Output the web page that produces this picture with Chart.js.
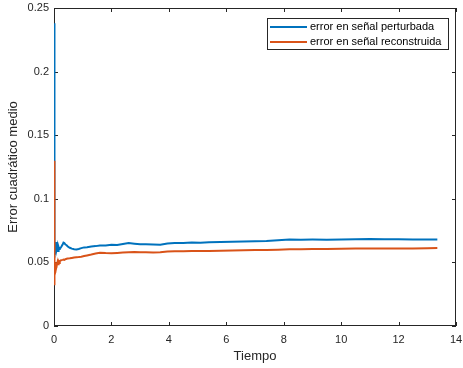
<!DOCTYPE html>
<html>
<head>
<meta charset="utf-8">
<script src="https://cdn.jsdelivr.net/npm/chart.js@4/dist/chart.umd.min.js"></script>
<style>
    html, body { margin: 0; padding: 0; background: #fff; }
    #wrap { width: 463px; height: 368px; }
</style>
</head>
<body>
<div id="wrap"><canvas id="mse-chart" width="463" height="368"></canvas></div>
<script>
// Time stamps shared by both error curves
const tiempo = [
    0, 0.004, 0.008, 0.012, 0.016, 0.02, 0.025, 0.03, 0.035, 0.04,
    0.05, 0.06, 0.07, 0.08, 0.09, 0.1, 0.12, 0.14, 0.16, 0.18,
    0.2, 0.23, 0.26, 0.3, 0.33, 0.36, 0.4, 0.44, 0.48, 0.55,
    0.62, 0.7, 0.78, 0.86, 0.95, 1.05, 1.15, 1.3, 1.45, 1.6,
    1.8, 2.0, 2.2, 2.4, 2.6, 2.8, 3.0, 3.2, 3.45, 3.7,
    3.95, 4.2, 4.5, 4.8, 5.1, 5.4, 5.8, 6.2, 6.6, 7.0,
    7.4, 7.8, 8.2, 8.6, 9.0, 9.5, 10.0, 10.5, 11.0, 11.5,
    12.0, 12.5, 13.0, 13.35
];

const errorPerturbada = [
    0.238, 0.19, 0.13, 0.078, 0.062, 0.057, 0.066, 0.058, 0.065, 0.056,
    0.064, 0.058, 0.066, 0.059, 0.064, 0.060, 0.063, 0.059, 0.062, 0.0605,
    0.061, 0.0615, 0.0625, 0.064, 0.0655, 0.0652, 0.064, 0.0635, 0.0625, 0.0615,
    0.0608, 0.0603, 0.0602, 0.0606, 0.0612, 0.0618, 0.062, 0.0625, 0.0628, 0.0632,
    0.0633, 0.0638, 0.0637, 0.0645, 0.0652, 0.0647, 0.0643, 0.0642, 0.064, 0.0638,
    0.0648, 0.0652, 0.0652, 0.0656, 0.0655, 0.0658, 0.066, 0.0663, 0.0665, 0.0667,
    0.0668, 0.0675, 0.068, 0.0679, 0.068, 0.0679, 0.0681, 0.0682, 0.0684, 0.0682,
    0.0682, 0.0681, 0.0681, 0.0681
];

const errorReconstruida = [
    0.13, 0.09, 0.05, 0.032, 0.046, 0.036, 0.048, 0.039, 0.05, 0.042,
    0.049, 0.043, 0.05, 0.046, 0.05, 0.047, 0.05, 0.0485, 0.0505, 0.0495,
    0.051, 0.0515, 0.0518, 0.052, 0.0522, 0.052, 0.0525, 0.0528, 0.053, 0.0532,
    0.0535, 0.0538, 0.054, 0.0542, 0.0545, 0.055, 0.0555, 0.0562, 0.057, 0.0575,
    0.0573, 0.0572, 0.0574, 0.0577, 0.0579, 0.0581, 0.058, 0.0579, 0.0578, 0.058,
    0.0585, 0.0587, 0.0587, 0.0589, 0.0589, 0.059, 0.0592, 0.0594, 0.0596, 0.0597,
    0.0598, 0.06, 0.0603, 0.0604, 0.0605, 0.0606, 0.0607, 0.0609, 0.061, 0.061,
    0.061, 0.061, 0.0612, 0.0613
];

const seriesLabels = ['error en señal perturbada', 'error en señal reconstruida'];
const xTicks = [0, 2, 4, 6, 8, 10, 12, 14];
const yTicks = [0, 0.05, 0.1, 0.15, 0.2, 0.25];
const yTickLabels = ['0', '0.05', '0.1', '0.15', '0.2', '0.25'];

const AXIS_COLOR = '#262626';
const FONT = '"Liberation Sans", Arial, sans-serif';

// MATLAB-style frame: box on, inward ticks on every side (under the data),
// legend box in the top right corner (over the data)
const matlabFrame = {
    id: 'matlabFrame',
    beforeDatasetsDraw(chart) {
        const { ctx, chartArea: a, scales } = chart;
        const len = 4;
        ctx.save();
        ctx.strokeStyle = AXIS_COLOR;
        ctx.lineWidth = 1;
        ctx.strokeRect(a.left + 0.5, a.top + 0.5, a.right - a.left - 1, a.bottom - a.top - 1);

        ctx.beginPath();
        xTicks.forEach(v => {
            const x = Math.round(scales.x.getPixelForValue(v)) + 0.5;
            ctx.moveTo(x, a.bottom); ctx.lineTo(x, a.bottom - len);
            ctx.moveTo(x, a.top); ctx.lineTo(x, a.top + len);
        });
        yTicks.forEach(v => {
            const y = Math.round(scales.y.getPixelForValue(v)) + 0.5;
            ctx.moveTo(a.left, y); ctx.lineTo(a.left + len, y);
            ctx.moveTo(a.right, y); ctx.lineTo(a.right - len, y);
        });
        ctx.stroke();
        ctx.restore();
    },
    afterDatasetsDraw(chart) {
        const { ctx, chartArea: a } = chart;
        const boxW = 181, boxH = 31;
        const bx = a.right - 8 - boxW, by = a.top + 10;
        ctx.save();
        ctx.fillStyle = '#fff';
        ctx.fillRect(bx, by, boxW, boxH);
        ctx.strokeStyle = AXIS_COLOR;
        ctx.lineWidth = 1;
        ctx.strokeRect(bx + 0.5, by + 0.5, boxW, boxH);
        ctx.font = '11px ' + FONT;
        ctx.textBaseline = 'middle';
        chart.data.datasets.forEach((ds, i) => {
            const y = by + 9 + i * 15;
            ctx.strokeStyle = ds.borderColor;
            ctx.lineWidth = 2;
            ctx.beginPath();
            ctx.moveTo(bx + 3, y); ctx.lineTo(bx + 40, y);
            ctx.stroke();
            ctx.fillStyle = '#000';
            ctx.fillText(ds.label, bx + 43, y);
        });
        ctx.restore();
    }
};

function buildPoints(values) {
    return tiempo.map((t, i) => ({ x: t, y: values[i] }));
}

new Chart(document.getElementById('mse-chart'), {
    type: 'line',
    data: {
        datasets: [{
            label: seriesLabels[0],
            data: buildPoints(errorPerturbada),
            borderColor: '#0072BD',
            borderWidth: 2,
            pointRadius: 0,
            tension: 0,
            order: 2
        }, {
            label: seriesLabels[1],
            data: buildPoints(errorReconstruida),
            borderColor: '#D95319',
            borderWidth: 2,
            pointRadius: 0,
            tension: 0,
            order: 1
        }]
    },
    options: {
        responsive: false,
        animation: false,
        layout: { padding: { top: 8, right: 7, left: 0, bottom: 0 } },
        plugins: { legend: { display: false }, tooltip: { enabled: false } },
        scales: {
            x: {
                type: 'linear',
                min: 0, max: 14,
                afterBuildTicks: s => { s.ticks = xTicks.map(v => ({ value: v })); },
                afterFit: s => { s.height = 42; s.paddingLeft = 0; s.paddingRight = 0; },
                grid: { display: false, drawTicks: false },
                border: { display: false },
                ticks: { color: AXIS_COLOR, font: { family: FONT, size: 11 }, padding: 7, maxRotation: 0 },
                title: { display: true, text: 'Tiempo', color: AXIS_COLOR, font: { family: FONT, size: 13 }, padding: { top: 0, bottom: 4 } }
            },
            y: {
                min: 0, max: 0.25,
                afterBuildTicks: s => { s.ticks = yTicks.map(v => ({ value: v })); },
                afterFit: s => { s.width = 54; s.paddingTop = 0; s.paddingBottom = 0; },
                grid: { display: false, drawTicks: false },
                border: { display: false },
                ticks: {
                    color: AXIS_COLOR, font: { family: FONT, size: 11 }, padding: 5,
                    callback: (v, i) => yTickLabels[i]
                },
                title: { display: true, text: 'Error cuadrático medio', color: AXIS_COLOR, font: { family: FONT, size: 13 }, padding: { top: 6, bottom: 0 } }
            }
        }
    },
    plugins: [matlabFrame]
});
</script>
</body>
</html>
